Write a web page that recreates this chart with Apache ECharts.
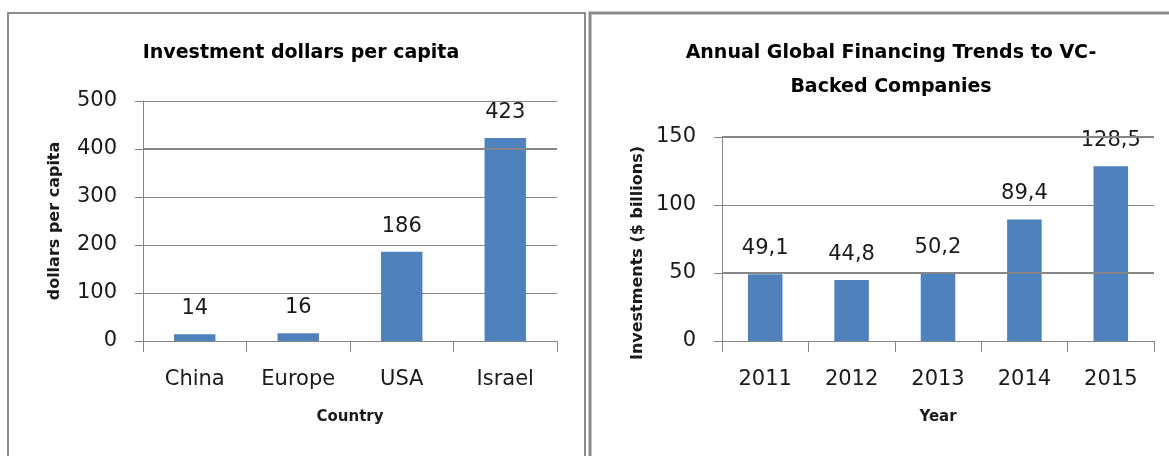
<!DOCTYPE html>
<html><head><meta charset="utf-8">
<script src="https://cdn.jsdelivr.net/npm/echarts@6/dist/echarts.min.js"></script>
<style>html,body{margin:0;padding:0;background:#fff}#c{width:1169px;height:456px}</style>
</head><body><div id="c"></div>
<script>
// ---- data ----
const countries = ['China', 'Europe', 'USA', 'Israel'];
const perCapita = [14, 16, 186, 423];
const years = ['2011', '2012', '2013', '2014', '2015'];
const investments = [49.1, 44.8, 50.2, 89.4, 128.5];
const leftAxisRange = [0, 500, 100];   // min, max, interval
const rightAxisRange = [0, 150, 50];
const leftHeavyLines = [400];          // gridlines that look heavier in the original
const rightHeavyLines = [150, 50];
const leftTitle = 'Investment dollars per capita';
const rightTitle = 'Annual Global Financing Trends to VC-\nBacked Companies';

// ---- styles ----
const FONT = '"DejaVu Sans", "Open Sans", sans-serif';
const GRAY = '#868686';
const BAR = '#4F81BD';
const TXT = '#1a1a1a';

function catAxis(idx, data, name) {
  return {
    type: 'category', gridIndex: idx, data: data,
    axisLine: { lineStyle: { color: GRAY, width: 1 } },
    axisTick: { show: true, length: 11, lineStyle: { color: GRAY } },
    axisLabel: { fontSize: 21, margin: 28, color: TXT, fontFamily: FONT },
    name: name, nameLocation: 'middle', nameGap: 69,
    nameTextStyle: { fontSize: 15, fontWeight: 'bold', color: TXT, fontFamily: FONT }
  };
}
function valAxis(idx, r, name, gap, pad) {
  return {
    type: 'value', gridIndex: idx, min: r[0], max: r[1], interval: r[2],
    axisLine: { show: true, lineStyle: { color: GRAY, width: 1 } },
    axisTick: { show: true, length: 8, lineStyle: { color: GRAY } },
    splitLine: { show: true, lineStyle: { color: GRAY, width: 1 } },
    axisLabel: { fontSize: 21, margin: 26, color: TXT, fontFamily: FONT },
    name: name, nameLocation: 'middle', nameGap: gap, nameRotate: 90,
    nameTextStyle: { fontSize: 16, fontWeight: 'bold', color: TXT, fontFamily: FONT, padding: pad }
  };
}
function barSeries(idx, values) {
  return {
    type: 'bar', xAxisIndex: idx, yAxisIndex: idx, data: values, barWidth: '40%', z: 3,
    itemStyle: { color: BAR },
    label: {
      show: true, position: 'top', distance: 15, fontSize: 21, color: TXT, fontFamily: FONT,
      formatter: p => String(p.value).replace('.', ',')
    }
  };
}
function heavyGrid(idx, heavy) {
  return {
    type: 'line', xAxisIndex: idx, yAxisIndex: idx, data: [], z: 1, silent: true,
    markLine: {
      silent: true, symbol: 'none', label: { show: false }, animation: false,
      lineStyle: { color: GRAY, width: 2, type: 'solid' },
      data: heavy.map(v => ({ yAxis: v }))
    }
  };
}

const chart = echarts.init(document.getElementById('c'), null, { renderer: 'canvas' });
chart.setOption({
  backgroundColor: '#fff',
  animation: false,
  title: [
    { text: leftTitle, left: 296, top: 31, textAlign: 'center',
      textStyle: { fontSize: 19, fontWeight: 'bold', color: '#000', fontFamily: FONT, lineHeight: 34 } },
    { text: rightTitle, left: 886, top: 31, textAlign: 'center',
      textStyle: { fontSize: 19, fontWeight: 'bold', color: '#000', fontFamily: FONT, lineHeight: 34 } }
  ],
  grid: [
    { left: 143, right: 612, top: 101, bottom: 115, outerBoundsMode: 'none' },
    { left: 722, right: 15, top: 137, bottom: 115, outerBoundsMode: 'none' }
  ],
  xAxis: [catAxis(0, countries, 'Country'), catAxis(1, years, 'Year')],
  yAxis: [
    valAxis(0, leftAxisRange, 'dollars per capita', 80, 0),
    valAxis(1, rightAxisRange, 'Investments ($ billions)', 76, [0, 28, 0, 0])
  ],
  series: [
    heavyGrid(0, leftHeavyLines), heavyGrid(1, rightHeavyLines),
    barSeries(0, perCapita), barSeries(1, investments)
  ],
  graphic: [
    { type: 'rect', shape: { x: 8, y: 13, width: 577, height: 470 }, silent: true,
      style: { fill: 'none', stroke: '#8c8c8c', lineWidth: 2 } },
    { type: 'rect', shape: { x: 590, y: 13, width: 600, height: 470 }, silent: true,
      style: { fill: 'none', stroke: '#8c8c8c', lineWidth: 3 } }
  ]
});
</script></body></html>
